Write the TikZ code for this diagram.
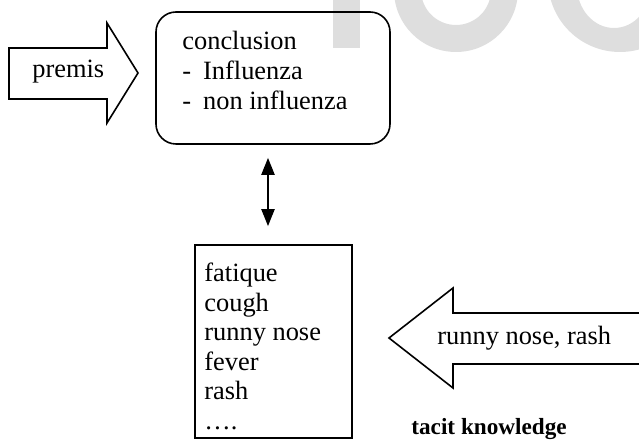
\documentclass[tikz,border=0pt]{standalone}
\usepackage{fontspec}
\setmainfont{Liberation Serif}
\usetikzlibrary{arrows.meta}
\definecolor{wmgray}{RGB}{222,222,222}
\begin{document}
\begin{tikzpicture}[x=0.5pt,y=-0.5pt,
  outline/.style={draw=black, line width=0.8pt},
  txt/.style={anchor=base west, inner sep=0pt, font=\fontsize{13.2}{15}\selectfont},
  boldtxt/.style={txt, font=\fontsize{11.6}{15}\selectfont\bfseries},
  wm/.style={fill=wmgray},
  dblarrow/.style={line width=1pt, {Triangle[length=8.5pt,width=6.5pt]}-{Triangle[length=8.5pt,width=6.5pt]}}
]
\useasboundingbox (0,0) rectangle (639,442);
\begin{scope}
\clip (0,0) rectangle (639,442);
% watermark fragments
\fill[wm] (333,-5) rectangle (360,48);
\fill[wm, even odd rule] (456,-10) circle[radius=31pt] (456,-10) circle[radius=17.5pt];
\fill[wm, even odd rule] (620,-20) circle[radius=36pt] (614,-14) ellipse[x radius=18.5pt, y radius=21pt];
% big arrows
\draw[outline, line join=miter] (9,48) -- (107,48) -- (107,23) -- (138,73) -- (107,123) -- (107,99) -- (9,99) -- cycle;
\draw[outline, line join=miter] (660,313) -- (453,313) -- (453,288) -- (389,338) -- (453,388) -- (453,364) -- (660,364);
\end{scope}
% boxes
\node[outline, rounded corners=10pt, minimum width=117pt, minimum height=66pt, inner sep=0pt] (cbox) at (273,78) {};
\node[outline, minimum width=78.5pt, minimum height=96.5pt, inner sep=0pt] (lbox) at (273.5,341.5) {};
% texts
\node[txt] (premis) at (32,78) {premis};
\node[txt] (c1) at (182,50) {conclusion};
\node[txt] (c2) at (182,80) {-\hspace{6pt}Influenza};
\node[txt] (c3) at (182,110) {-\hspace{6pt}non influenza};
\node[txt] (l1) at (204,282) {fatique};
\node[txt] (l2) at (204,311.5) {cough};
\node[txt] (l3) at (204,341) {runny nose};
\node[txt] (l4) at (204,370.5) {fever};
\node[txt] (l5) at (204,400) {rash};
\node[txt] (l6) at (204,429.5) {\ldots.};
\node[txt] (rn) at (437,345) {runny nose, rash};
\node[boldtxt] (tk) at (411,435) {tacit knowledge};
% double arrow
\draw[dblarrow, shorten <=6.5pt, shorten >=9pt] ([xshift=-2.5pt]cbox.south) -- ([xshift=-2.75pt]lbox.north);
\end{tikzpicture}
\end{document}
